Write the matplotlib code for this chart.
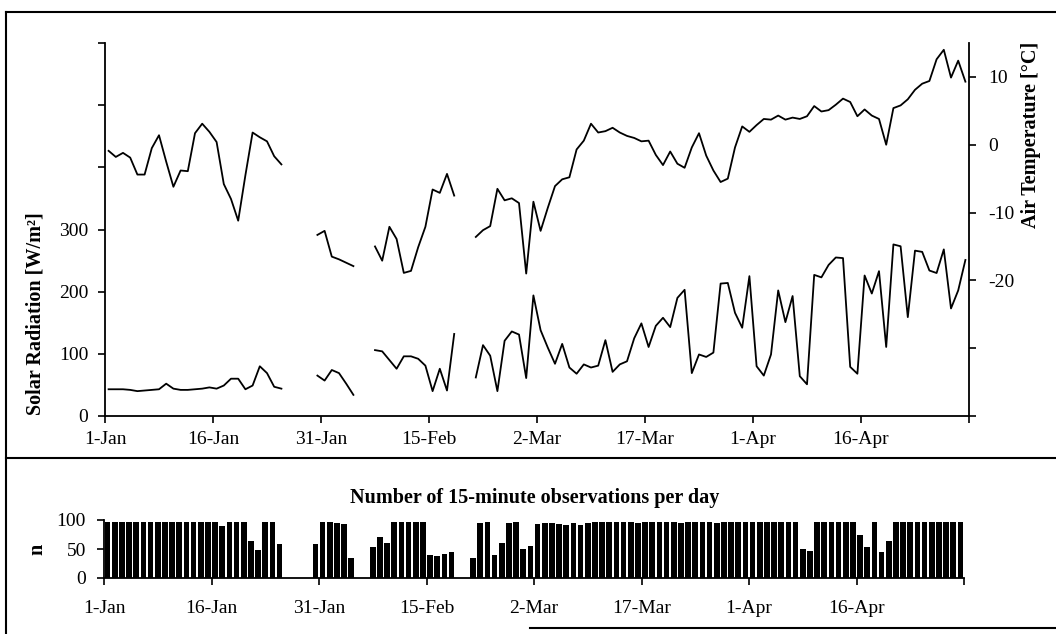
import numpy as np
import pandas as pd
import matplotlib
matplotlib.use('Agg')
import matplotlib.pyplot as plt
from matplotlib.lines import Line2D

plt.rcParams['font.family'] = ['Liberation Serif', 'DejaVu Serif']
plt.rcParams['axes.unicode_minus'] = False

nan = np.nan

# daily mean air temperature [C], 1 Jan - 30 Apr (nan = no data)
air_temp = [
    -0.9, -1.8, -1.2, -1.9, -4.4, -4.4, -0.5, 1.4, -2.5, -6.2,
    -3.8, -3.9, 1.7, 3.1, 1.9, 0.4, -5.8, -8.0, -11.2, -4.5,
    1.8, 1.1, 0.5, -1.7, -2.9, nan, nan, nan, nan, -13.3,
    -12.7, -16.5, -16.9, -17.4, -17.9, nan, nan, -15.0, -17.1, -12.1,
    -13.9, -18.9, -18.6, -15.1, -12.1, -6.6, -7.1, -4.3, -7.5, nan,
    nan, -13.6, -12.6, -12.0, -6.5, -8.2, -7.9, -8.6, -19.0, -8.4,
    -12.7, -9.3, -6.1, -5.1, -4.8, -0.7, 0.6, 3.1, 1.8, 2.0,
    2.5, 1.8, 1.3, 1.0, 0.5, 0.6, -1.5, -3.0, -1.0, -2.8,
    -3.4, -0.4, 1.7, -1.6, -3.8, -5.5, -5.0, -0.4, 2.7, 1.9,
    2.9, 3.8, 3.7, 4.3, 3.7, 4.0, 3.8, 4.2, 5.7, 4.9,
    5.1, 5.9, 6.8, 6.3, 4.2, 5.2, 4.3, 3.8, 0.0, 5.4,
    5.8, 6.7, 8.1, 9.0, 9.4, 12.6, 14.0, 9.9, 12.4, 9.3,
]

# daily mean solar radiation [W/m2]
solar_rad = [
    43, 43, 43, 42, 40, 41, 42, 43, 52, 44,
    42, 42, 43, 44, 46, 44, 49, 60, 60, 43,
    49, 80, 69, 47, 44, nan, nan, nan, nan, 65,
    57, 74, 69, 52, 34, nan, nan, 106, 104, 90,
    76, 96, 96, 92, 81, 40, 76, 41, 132, nan,
    nan, 62, 114, 97, 40, 121, 136, 131, 61, 194,
    138, 110, 84, 116, 78, 68, 83, 78, 81, 122,
    71, 83, 88, 125, 149, 111, 145, 158, 143, 190,
    203, 69, 99, 95, 102, 213, 214, 166, 142, 225,
    80, 65, 99, 202, 151, 193, 64, 51, 227, 223,
    243, 255, 254, 79, 68, 226, 197, 233, 111, 276,
    273, 159, 266, 264, 234, 230, 268, 173, 202, 251,
]

# number of 15-minute observations per day
n_obs = [
    97, 97, 96, 96, 97, 96, 96, 97, 97, 97,
    97, 97, 96, 97, 97, 97, 90, 96, 97, 97,
    64, 48, 97, 97, 58, 0, 0, 0, 0, 59,
    97, 96, 95, 93, 35, 0, 0, 53, 71, 61,
    97, 97, 97, 97, 97, 40, 38, 42, 44, 0,
    0, 34, 95, 96, 39, 60, 94, 96, 50, 55,
    93, 94, 94, 93, 92, 94, 92, 95, 96, 96,
    96, 96, 96, 96, 95, 96, 96, 96, 96, 96,
    95, 96, 96, 96, 96, 95, 96, 96, 96, 96,
    96, 96, 96, 96, 96, 96, 96, 50, 47, 96,
    96, 96, 96, 96, 96, 75, 53, 96, 45, 64,
    96, 96, 96, 96, 96, 96, 96, 96, 96, 96,
]

tick_dates = pd.date_range('2001-01-01', periods=9, freq='15D')
date_labels = ['{}-{}'.format(d.day, d.strftime('%b')) for d in tick_dates[:-1]] + ['']

W, H = 1056, 634


def fx(px):
    return px / W


def fy(py):
    return 1 - py / H


fig = plt.figure(figsize=(W / 100, H / 100), dpi=100)

days = np.arange(len(n_obs)) + 0.5

# top panel: radiation (left) and temperature (right)
ax = fig.add_axes([fx(105), fy(416), fx(969) - fx(105), fy(43) - fy(416)])
ax2 = ax.twinx()

ax.plot(days, solar_rad, color='black', lw=1.3)
ax2.plot(days, air_temp, color='black', lw=1.3)

ax.set_xlim(0, 120)
ax.set_xticks(range(0, 121, 15))
ax.set_xticklabels(date_labels)
ax.set_ylim(0, 600)
ax.set_yticks(range(0, 601, 100))
ax.set_yticklabels(['0', '100', '200', '300', '', '', ''])

ax2.set_ylim(-40, 15)
ax2.set_yticks(range(-40, 11, 10))
ax2.set_yticklabels(['', '', '-20', '-10', '0', '10'])

for a in (ax, ax2):
    a.spines['top'].set_visible(False)
    for s in a.spines.values():
        s.set_linewidth(1.3)
ax.spines['right'].set_visible(False)
ax2.spines['left'].set_visible(False)
ax2.spines['bottom'].set_visible(False)

ax.tick_params(axis='x', direction='out', length=5, width=1.2, labelsize=14, pad=6)
ax.tick_params(axis='y', direction='out', length=5, width=1.2, labelsize=14, pad=7)
ax2.tick_params(axis='y', direction='out', length=5, width=1.2, labelsize=14, pad=9)

# bottom panel: observations per day
axb = fig.add_axes([fx(104), fy(578), fx(964) - fx(104), fy(520) - fy(578)])
axb.bar(days, n_obs, width=0.78, color='black')
axb.set_xlim(0, 120)
axb.set_ylim(0, 100)
axb.set_xticks(range(0, 121, 15))
axb.set_xticklabels(date_labels)
axb.set_yticks([0, 50, 100])
axb.spines['top'].set_visible(False)
axb.spines['right'].set_visible(False)
for s in axb.spines.values():
    s.set_linewidth(1.3)
axb.tick_params(axis='x', direction='out', length=5, width=1.2, labelsize=14, pad=11)
axb.tick_params(axis='y', direction='out', length=5, width=1.2, labelsize=14, pad=8)

bold = dict(fontsize=14.5, fontweight='bold', ha='center', va='center')
fig.text(fx(36), fy(314), 'Solar Radiation [W/m²]', rotation=90, **bold)
fig.text(fx(1031), fy(135), 'Air Temperature [°C]', rotation=90, **bold)
fig.text(fx(535), fy(498), 'Number of 15-minute observations per day', **bold)
fig.text(fx(37), fy(549), 'n', rotation=90, **bold)

# panel frames
frame = dict(transform=fig.transFigure, color='black', lw=1.5)
fig.add_artist(Line2D([fx(6), 1], [fy(12), fy(12)], **frame))
fig.add_artist(Line2D([fx(6), fx(6)], [fy(12), 0], **frame))
fig.add_artist(Line2D([fx(6), 1], [fy(458), fy(458)], **frame))
fig.add_artist(Line2D([fx(530), 1], [fy(628), fy(628)], **frame))

fig.savefig('out.png', dpi=100)
